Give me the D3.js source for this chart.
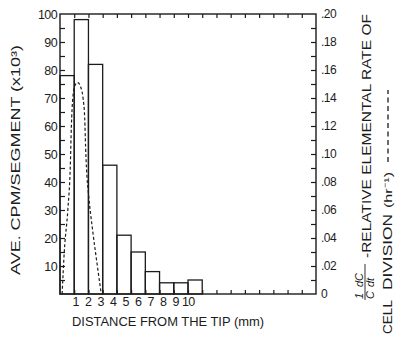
<!DOCTYPE html>
<html>
<head>
<meta charset="utf-8">
<script src="https://cdn.jsdelivr.net/npm/d3@7"></script>
<style>
  html, body { margin: 0; padding: 0; background: #fff; }
  svg { display: block; }
  text { font-family: "Liberation Sans", Arial, sans-serif; fill: #1c1c1c; }
</style>
</head>
<body>
<div id="chart"></div>
<script>
// ---- data ----
const binStart = [0, 1, 2, 3, 4, 5, 6, 7, 8, 9];          // mm, start of each 1-mm segment
const binEnd   = [1, 2, 3, 4, 5, 6, 7, 8, 9, 10];         // mm, end of each segment
const cpm      = [78, 98, 82, 46, 21, 15, 8, 4, 4, 5];     // AVE. CPM/SEGMENT (x10^3)

const rateX = [0.15, 0.3, 0.55, 0.72, 0.8, 0.9, 1.05, 1.25, 1.45, 1.62, 1.74, 1.8, 1.86, 2.0, 2.3, 2.6, 2.9];
const rateY = [0, 0.03, 0.06, 0.09, 0.12, 0.14, 0.149, 0.151, 0.148, 0.14, 0.125, 0.105, 0.09, 0.072, 0.045, 0.022, 0];

const xTickValues = [1, 2, 3, 4, 5, 6, 7, 8, 9, 10];
const xTickLabels = ["1", "2", "3", "4", "5", "6", "7", "8", "9", "10"];
const leftTickValues = [10, 20, 30, 40, 50, 60, 70, 80, 90, 100];
const leftTickLabels = ["10", "20", "30", "40", "50", "60", "70", "80", "90", "100"];
const rightTickValues = [0, 0.02, 0.04, 0.06, 0.08, 0.10, 0.12, 0.14, 0.16, 0.18, 0.20];
const rightTickLabels = ["0", ".02", ".04", ".06", ".08", ".10", ".12", ".14", ".16", ".18", ".20"];

// ---- layout ----
const W = 399, H = 337;
const L = 60, R = 316, T = 14, B = 294;
const ink = "#1c1c1c";

const svg = d3.select("#chart").append("svg").attr("width", W).attr("height", H);

const x = d3.scaleLinear().domain([0, 18]).range([L, R]);
const y = d3.scaleLinear().domain([0, 100]).range([B, T]);
const y2 = d3.scaleLinear().domain([0, 0.2]).range([B, T]);

// bars
svg.append("g").selectAll("rect").data(cpm).join("rect")
  .attr("x", (d, i) => x(binStart[i]))
  .attr("y", d => y(d))
  .attr("width", (d, i) => x(binEnd[i]) - x(binStart[i]))
  .attr("height", d => y(0) - y(d))
  .attr("fill", "none").attr("stroke", ink).attr("stroke-width", 1.3);

// dashed rate curve
const pts = rateX.map((v, i) => [v, rateY[i]]);
svg.append("path")
  .attr("d", d3.line().x(d => x(d[0])).y(d => y2(d[1])).curve(d3.curveMonotoneX)(pts))
  .attr("fill", "none").attr("stroke", ink).attr("stroke-width", 1.2)
  .attr("stroke-dasharray", "3,2.2");

// frame
svg.append("rect").attr("x", L).attr("y", T).attr("width", R - L).attr("height", B - T)
  .attr("fill", "none").attr("stroke", ink).attr("stroke-width", 1.4);

// left axis (ticks inward)
const leftMinor = d3.range(5, 100, 5);
svg.append("g").attr("transform", `translate(${L},0)`)
  .call(d3.axisRight(y).tickValues(leftMinor).tickSize(5).tickFormat(""))
  .call(g => { g.select(".domain").remove(); g.selectAll("line").attr("stroke", ink).attr("stroke-width", 1.2); });
svg.append("g").attr("transform", `translate(${L},0)`)
  .call(d3.axisLeft(y).tickValues(leftTickValues).tickSize(0).tickPadding(3)
    .tickFormat((d, i) => leftTickLabels[i]))
  .call(g => { g.select(".domain").remove();
    g.selectAll("text").attr("font-size", 12.5).attr("font-family", "Liberation Sans, Arial").attr("fill", ink).attr("letter-spacing", -0.6); });

// right axis (ticks inward)
const rightMinor = d3.range(0.01, 0.2, 0.01);
svg.append("g").attr("transform", `translate(${R},0)`)
  .call(d3.axisLeft(y2).tickValues(rightMinor).tickSize(5).tickFormat(""))
  .call(g => { g.select(".domain").remove(); g.selectAll("line").attr("stroke", ink).attr("stroke-width", 1.2); });
svg.append("g").attr("transform", `translate(${R},0)`)
  .call(d3.axisRight(y2).tickValues(rightTickValues).tickSize(0).tickPadding(5)
    .tickFormat((d, i) => rightTickLabels[i]))
  .call(g => { g.select(".domain").remove();
    g.selectAll("text").attr("font-size", 12).attr("font-family", "Liberation Sans, Arial").attr("fill", ink).attr("letter-spacing", -0.5); });

// top and bottom ticks (every mm, inward)
const mmTicks = d3.range(1, 18, 1);
svg.append("g").attr("transform", `translate(0,${T})`)
  .call(d3.axisBottom(x).tickValues(mmTicks).tickSize(4).tickFormat(""))
  .call(g => { g.select(".domain").remove(); g.selectAll("line").attr("stroke", ink).attr("stroke-width", 1.2); });
svg.append("g").attr("transform", `translate(0,${B})`)
  .call(d3.axisTop(x).tickValues(mmTicks).tickSize(4).tickFormat(""))
  .call(g => { g.select(".domain").remove(); g.selectAll("line").attr("stroke", ink).attr("stroke-width", 1.2); });

// bottom tick labels (hand lettered, slightly compressed toward the left)
svg.append("g").selectAll("text").data(xTickValues).join("text")
  .attr("x", d => x(d * 0.88 + 0.22))
  .attr("y", B + 12)
  .attr("text-anchor", "middle")
  .attr("font-size", 12.5)
  .attr("letter-spacing", -0.6)
  .text((d, i) => xTickLabels[i]);

// axis titles
svg.append("text").attr("x", 72).attr("y", 326)
  .attr("font-size", 12.5).attr("textLength", 192).attr("lengthAdjust", "spacingAndGlyphs")
  .text("DISTANCE  FROM THE TIP (mm)");

svg.append("text").attr("transform", "translate(20,275) rotate(-90)")
  .attr("font-size", 13.5).attr("textLength", 230).attr("lengthAdjust", "spacingAndGlyphs")
  .text("AVE. CPM/SEGMENT (x10³)");

// right title, column 1
const c1 = svg.append("g").attr("transform", "translate(365,300) rotate(-90)");
c1.append("text").attr("x", 1).attr("y", -2).attr("font-size", 11).attr("font-style", "italic").text("1");
c1.append("text").attr("x", 1).attr("y", 9).attr("font-size", 11).attr("font-style", "italic").text("C");
c1.append("line").attr("x1", 0).attr("x2", 36).attr("y1", 0).attr("y2", 0).attr("stroke", ink).attr("stroke-width", 0.9);
c1.append("text").attr("x", 13).attr("y", -2).attr("font-size", 11).attr("font-style", "italic").text("dC");
c1.append("text").attr("x", 13).attr("y", 9).attr("font-size", 11).attr("font-style", "italic").text("dt");
c1.append("text").attr("x", 42).attr("y", 6).attr("font-size", 12.5)
  .attr("textLength", 244).attr("lengthAdjust", "spacingAndGlyphs")
  .text("-RELATIVE  ELEMENTAL  RATE   OF");

// right title, column 2
const c2 = svg.append("g").attr("transform", "translate(387,334) rotate(-90)");
c2.append("text").attr("x", 0).attr("y", 5).attr("font-size", 12)
  .attr("textLength", 34).attr("lengthAdjust", "spacingAndGlyphs").text("CELL");
c2.append("text").attr("x", 44).attr("y", 5).attr("font-size", 12)
  .attr("textLength", 76).attr("lengthAdjust", "spacingAndGlyphs").text("DIVISION");
c2.append("text").attr("x", 126).attr("y", 5).attr("font-size", 11.5)
  .attr("textLength", 36).attr("lengthAdjust", "spacingAndGlyphs").text("(hr⁻¹)");
c2.append("line").attr("x1", 172).attr("x2", 244).attr("y1", 1).attr("y2", 1)
  .attr("stroke", ink).attr("stroke-width", 1.3).attr("stroke-dasharray", "5,3.5");
</script>
</body>
</html>
